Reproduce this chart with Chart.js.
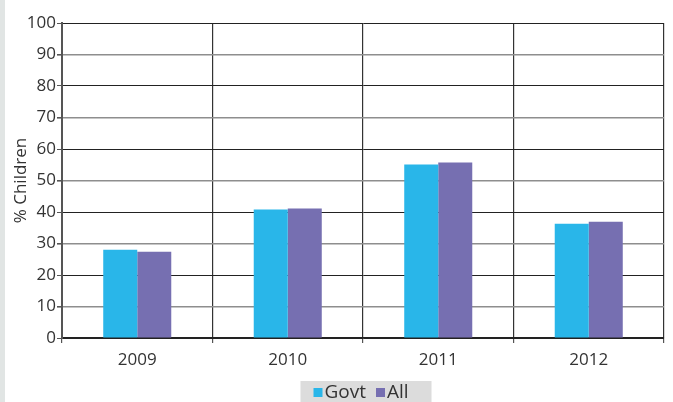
<!DOCTYPE html>
<html>
<head>
<meta charset="utf-8">
<script src="https://cdn.jsdelivr.net/npm/chart.js@4"></script>
<style>
  html, body { margin: 0; padding: 0; background: #fff; }
  #wrap { position: relative; width: 673px; height: 402px; }
</style>
</head>
<body>
<div id="wrap"><canvas id="chart"></canvas></div>
<script>
const years = ['2009', '2010', '2011', '2012'];
const govt = [28.0, 40.8, 55.1, 36.3];
const all = [27.4, 41.1, 55.7, 36.9];
const yTicks = [0, 10, 20, 30, 40, 50, 60, 70, 80, 90, 100];

const FONT = '"Open Sans", "DejaVu Sans", sans-serif';

// grey strip on the left, grey box behind the legend, legend itself
const frame = {
  id: 'frame',
  beforeDraw(chart) {
    const c = chart.ctx;
    c.save();
    c.fillStyle = '#e1e5e4';
    c.fillRect(0, 0, 5, chart.height);
    c.restore();
  },
  afterDraw(chart) {
    const c = chart.ctx;
    const area = chart.chartArea;
    c.save();
    c.font = '19px ' + FONT;
    c.textBaseline = 'alphabetic';
    const items = chart.data.datasets.map(d => ({
      text: d.label, color: d.backgroundColor, w: c.measureText(d.label).width
    }));
    const box = 9, gap = 2, itemGap = 10, boxW = 131;
    const cx = (area.left + area.right) / 2 + 3;
    const left = cx - boxW / 2;
    c.fillStyle = '#dcdcdc';
    c.fillRect(left, 381, boxW, 21);
    let x = left + 13;
    items.forEach(it => {
      c.fillStyle = it.color;
      c.fillRect(x, 388, box, box);
      x += box + gap;
      c.fillStyle = '#333';
      c.fillText(it.text, x, 398);
      x += it.w + itemGap;
    });
    c.restore();
  }
};

new Chart(document.getElementById('chart'), {
  type: 'bar',
  data: {
    labels: years,
    datasets: [
      { label: 'Govt', data: govt, backgroundColor: '#29b6e9' },
      { label: 'All', data: all, backgroundColor: '#766fb1' },
    ],
  },
  options: {
    responsive: true,
    maintainAspectRatio: false,
    animation: false,
    layout: { padding: { top: 23, right: 9, left: 0, bottom: 0 } },
    datasets: { bar: { categoryPercentage: 0.452, barPercentage: 1.0 } },
    scales: {
      x: {
        afterFit(s) { s.height = 64; },
        grid: {
          offset: true,
          color: '#333',
          lineWidth: 1.2,
          tickLength: 5,
          tickColor: '#555',
        },
        border: { color: '#222', width: 1.5 },
        ticks: { color: '#333', font: { family: FONT, size: 17 }, padding: 7 },
      },
      y: {
        min: 0,
        max: 100,
        afterFit(s) { s.width = 62; },
        afterBuildTicks(s) { s.ticks = yTicks.map(v => ({ value: v })); },
        grid: {
          color: ctx => (ctx.tick && ctx.tick.value % 20 === 0 ? '#222' : '#8e8e8e'),
          lineWidth: ctx => (ctx.tick && ctx.tick.value % 20 === 0 ? 1 : 1.6),
          tickLength: 5,
          tickColor: '#555',
        },
        border: { color: '#555', width: 2 },
        ticks: { color: '#333', font: { family: FONT, size: 17 }, padding: 1 },
        title: {
          display: true,
          text: '% Children',
          color: '#333',
          font: { family: FONT, size: 17 },
          padding: { top: 11, bottom: 0 },
        },
      },
    },
    plugins: {
      legend: { display: false },
      tooltip: { enabled: false },
    },
  },
  plugins: [frame],
});
</script>
</body>
</html>
